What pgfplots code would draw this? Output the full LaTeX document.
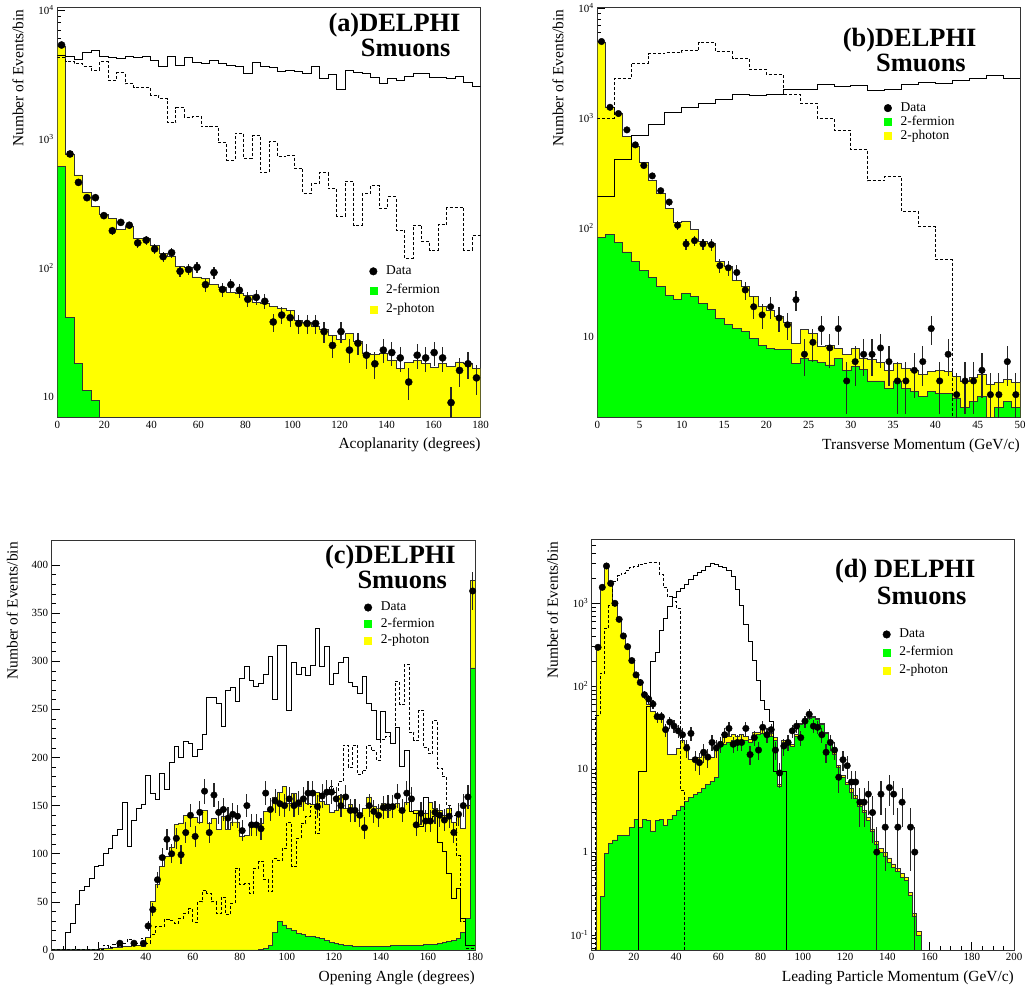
\documentclass[border=0pt]{standalone}
\usepackage{fontspec}
\setmainfont{Liberation Serif}
\usepackage{pgfplots}
\pgfplotsset{compat=1.18}
\definecolor{hgreen}{RGB}{0,255,0}
\definecolor{hyellow}{RGB}{255,255,0}
\pgfplotsset{
  delphi/.style={
    scale only axis,
    tick pos=left,
    tick align=inside,
    major tick length=8bp,
    minor tick length=4bp,
    axis line style={line width=0.9bp, black!80},
    every tick/.style={black, line width=0.7bp},
    tick label style={font=\fontsize{11}{13}\selectfont},
    /pgf/number format/assume math mode=true,
    label style={font=\fontsize{15.5}{18}\selectfont},
    xlabel style={at={(axis description cs:1,-0.0768)}, anchor=base east, inner sep=0pt},
    ylabel style={at={(axis description cs:-0.0804,0.995)}, anchor=base east, inner sep=0pt},
    log origin y=infty,
    legend cell align=left,
    legend style={draw=none, fill=none, font=\fontsize{13.5}{15}\selectfont, inner sep=0pt,
      nodes={inner sep=0pt, text height=9.5bp, text depth=3bp}, column sep=9bp},
  },
  hist/.style={const plot, line width=0.8bp, draw=black!80},
  sig/.style={const plot, line width=0.9bp, black},
  sigd/.style={const plot, line width=0.9bp, black, dash pattern=on 3bp off 2bp},
  data/.style={only marks, mark=*, mark size=3.3, black,
    error bars/y dir=both, error bars/y explicit, error bars/error mark=none,
    error bars/error bar style={line width=1.2bp, black!85}},
  legdata/.style={legend image code/.code={\draw[black] plot[only marks, mark=*, mark size=3.8bp] coordinates {(0bp,0bp)};}},
  leggreen/.style={legend image code/.code={\draw[hgreen] plot[only marks, mark=square*, mark size=3.5bp] coordinates {(0bp,0bp)};}},
  legyellow/.style={legend image code/.code={\draw[hyellow] plot[only marks, mark=square*, mark size=3.5bp] coordinates {(0bp,0bp)};}},
}
\begin{document}
\begin{tikzpicture}[x=1bp,y=1bp]
\useasboundingbox (0,0) rectangle (1025,989);
%%%%%%%%%%%%%%%%%%%% (a)
\begin{axis}[delphi, at={(57.3bp,571.5bp)}, anchor=south west, width=423.4bp, height=410.2bp,
  xmin=0, xmax=180, ymode=log, ymin=6.9, ymax=10500,
  xtick={0,20,...,180}, minor x tick num=3,
  ytick={10,100,1000,10000}, yticklabels={10,10\textsuperscript{2},10\textsuperscript{3},10\textsuperscript{4}},
  minor ytick={7,8,9,20,30,40,50,60,70,80,90,200,300,400,500,600,700,800,900,2000,3000,4000,5000,6000,7000,8000,9000},
  xlabel={Acoplanarity (degrees)}, ylabel={Number of Events/bin},
  legend style={at={(axis description cs:0.737,0.372)}, anchor=north west, row sep=6.5bp}]
\addplot[forget plot, hist, fill=hyellow] table[row sep=\\] {x y\\
0 5200\\ 3.6 764\\ 7.2 525\\ 10.8 383\\ 14.4 298\\ 18 261\\ 21.6 242\\ 25.2 200\\ 28.8 211\\ 32.4 169\\
36 169\\ 39.6 148\\ 43.2 129\\ 46.8 122\\ 50.4 102\\ 54 100\\ 57.6 85\\ 61.2 83\\ 64.8 74\\ 68.4 71\\
72 64\\ 75.6 63\\ 79.2 61\\ 82.8 54\\ 86.4 53\\ 90 50\\ 93.6 48\\ 97.2 47\\ 100.8 39\\ 104.4 38\\
108 35\\ 111.6 33\\ 115.2 30\\ 118.8 28\\ 122.4 31\\ 126 27\\ 129.6 21.7\\ 133.2 21.3\\ 136.8 21.7\\ 140.4 19.3\\
144 16.6\\ 147.6 18.4\\ 151.2 19\\ 154.8 18\\ 158.4 17\\ 162 18\\ 165.6 17.2\\ 169.2 18.6\\ 172.8 18\\ 176.4 16.6\\
180 16.6\\} \closedcycle;
\addplot[forget plot, hist, fill=hgreen] table[row sep=\\] {x y\\
0 610\\ 3.6 41\\ 7.2 18\\ 10.8 11.1\\ 14.4 9.3\\ 18 9.3\\} \closedcycle;
\addplot[forget plot, sig] table[row sep=\\] {x y\\
0 4470\\ 3.6 4390\\ 7.2 4140\\ 10.8 4670\\ 14.4 4840\\ 18 4350\\ 21.6 4300\\ 25.2 4210\\ 28.8 4350\\ 32.4 4300\\
36 4390\\ 39.6 4080\\ 43.2 3630\\ 46.8 4390\\ 50.4 3740\\ 54 4300\\ 57.6 3900\\ 61.2 3860\\ 64.8 4090\\ 68.4 3860\\
72 3740\\ 75.6 3630\\ 79.2 3230\\ 82.8 3900\\ 86.4 3630\\ 90 3590\\ 93.6 3330\\ 97.2 3390\\ 100.8 3330\\ 104.4 3230\\
108 3680\\ 111.6 2950\\ 115.2 3190\\ 118.8 2410\\ 122.4 3380\\ 126 3270\\ 129.6 3230\\ 133.2 3000\\ 136.8 2700\\ 140.4 2950\\
144 2860\\ 147.6 3070\\ 151.2 3230\\ 154.8 3220\\ 158.4 3000\\ 162 3000\\ 165.6 2930\\ 169.2 3070\\ 172.8 2740\\ 176.4 2570\\
180 2570\\};
\addplot[forget plot, sigd] table[row sep=\\] {x y\\
0 4300\\ 3.6 3970\\ 7.2 3860\\ 10.8 3680\\ 14.4 3420\\ 18 3970\\ 21.6 2860\\ 25.2 3250\\ 28.8 2670\\ 32.4 2520\\
36 2500\\ 39.6 2190\\ 43.2 2050\\ 46.8 1330\\ 50.4 1740\\ 54 1480\\ 57.6 1500\\ 61.2 1240\\ 64.8 1250\\ 68.4 935\\
72 686\\ 75.6 1110\\ 79.2 710\\ 82.8 1060\\ 86.4 545\\ 90 950\\ 93.6 730\\ 97.2 750\\ 100.8 590\\ 104.4 378\\
108 450\\ 111.6 545\\ 115.2 410\\ 118.8 252\\ 122.4 470\\ 126 215\\ 129.6 375\\ 133.2 435\\ 136.8 290\\ 140.4 355\\
144 196\\ 147.6 118\\ 151.2 215\\ 154.8 160\\ 158.4 137\\ 162 216\\ 165.6 294\\ 169.2 294\\ 172.8 137\\ 176.4 177\\
180 177\\};
\addplot[forget plot, data, mark size=3.6] table[row sep=\\, x index=0, y index=1, y error index=2] {x y e\\
1.8 5350 73\\ 5.4 764 27.6\\ 9.0 460 21.4\\ 12.6 350 18.7\\ 16.2 350 18.7\\ 19.8 254 15.9\\ 23.4 194 13.9\\ 27.0 225 15\\
30.6 214 14.6\\ 34.2 156 12.5\\ 37.8 164 12.8\\ 41.4 140 11.8\\ 45.0 122 11\\ 48.6 131 11.4\\ 52.2 94 9.7\\ 55.8 97 9.8\\
59.4 101 10\\ 63.0 74 8.6\\ 66.6 92 9.6\\ 70.2 68 8.2\\ 73.8 74 8.6\\ 77.4 67 8.2\\ 81.0 57 7.5\\ 84.6 59 7.7\\
88.2 55 7.4\\ 91.8 38 6.2\\ 95.4 43 6.6\\ 99.0 41 6.4\\ 102.6 37 6.1\\ 106.2 37 6.1\\ 109.8 37 6.1\\ 113.4 32 5.7\\
117.0 25 5\\ 120.6 32 5.7\\ 124.2 23 4.8\\ 127.8 26 5.1\\ 131.4 21 4.6\\ 135.0 18 4.2\\ 138.6 23 4.8\\ 142.2 22 4.7\\
145.8 20 4.5\\ 149.4 13 3.6\\ 153.0 21 4.6\\ 156.6 20 4.5\\ 160.2 22 4.7\\ 163.8 20 4.5\\ 167.4 9 3\\ 171.0 16 4\\
174.6 18 4.2\\ 178.2 14 3.7\\};
\addlegendimage{legdata}\addlegendentry{Data}
\addlegendimage{leggreen}\addlegendentry{2-fermion}
\addlegendimage{legyellow}\addlegendentry{2-photon}
\end{axis}
%%%%%%%%%%%%%%%%%%%% (b)
\begin{axis}[delphi, at={(597.3bp,571.3bp)}, anchor=south west, width=422.7bp, height=410.4bp,
  xmin=0, xmax=50, ymode=log, ymin=1.85, ymax=10200,
  xtick={0,5,...,50}, minor x tick num=4,
  ytick={10,100,1000,10000}, yticklabels={10,10\textsuperscript{2},10\textsuperscript{3},10\textsuperscript{4}},
  minor ytick={2,3,4,5,6,7,8,9,20,30,40,50,60,70,80,90,200,300,400,500,600,700,800,900,2000,3000,4000,5000,6000,7000,8000,9000},
  xlabel={Transverse Momentum (GeV/c)}, ylabel={Number of Events/bin},
  legend style={at={(axis description cs:0.678,0.770)}, anchor=north west, row sep=1.5bp}]
\addplot[forget plot, hist, fill=hyellow] table[row sep=\\] {x y\\
0 4900\\ 1 1250\\ 2 1100\\ 3 676\\ 4 548\\ 5 392\\ 6 268\\ 7 206\\ 8 150\\ 9 111\\
10 115\\ 11 97\\ 12 74.5\\ 13 72\\ 14 49\\ 15 44\\ 16 33\\ 17 29\\ 18 23.5\\ 19 19\\
20 17.7\\ 21 15.4\\ 22 13.6\\ 23 8.8\\ 24 11.9\\ 25 10.9\\ 26 8.2\\ 27 8.5\\ 28 7.9\\ 29 7.0\\
30 7.9\\ 31 6.4\\ 32 6.3\\ 33 5.9\\ 34 5.0\\ 35 5.8\\ 36 5.2\\ 37 5.0\\ 38 4.6\\ 39 4.9\\
40 5.0\\ 41 4.9\\ 42 4.4\\ 43 4.0\\ 44 4.3\\ 45 4.6\\ 46 3.7\\ 47 3.9\\ 48 4.1\\ 49 3.9\\ 50 3.9\\} \closedcycle;
\addplot[forget plot, hist, fill=hgreen] table[row sep=\\] {x y\\
0 81.7\\ 1 86\\ 2 73\\ 3 60\\ 4 49\\ 5 41\\ 6 35\\ 7 29\\ 8 24\\ 9 22\\
10 25.2\\ 11 23.5\\ 12 20.4\\ 13 18\\ 14 14.9\\ 15 13.2\\ 16 12\\ 17 11.3\\ 18 9.8\\ 19 8.5\\
20 7.9\\ 21 7.7\\ 22 7.7\\ 23 5.8\\ 24 6.4\\ 25 6.2\\ 26 5.9\\ 27 5.6\\ 28 6.4\\ 29 5.0\\
30 5.4\\ 31 5.1\\ 32 4.0\\ 33 4.0\\ 34 3.4\\ 35 4.0\\ 36 3.4\\ 37 3.2\\ 38 2.9\\ 39 3.2\\
40 3.1\\ 41 3.1\\ 42 2.8\\ 43 2.3\\ 44 2.6\\ 45 2.9\\ 46 1.5\\ 47 2.3\\ 48 2.6\\ 49 2.3\\ 50 2.3\\} \closedcycle;
\addplot[forget plot, sig] table[row sep=\\] {x y\\
0 192\\ 2 414\\ 4 686\\ 6 863\\ 8 1120\\ 10 1250\\ 12 1360\\ 14 1480\\ 16 1650\\ 18 1600\\
20 1650\\ 22 1800\\ 24 1830\\ 26 2000\\ 28 1930\\ 30 1960\\ 32 1770\\ 34 1830\\ 36 2000\\ 38 2100\\
40 2070\\ 42 2190\\ 44 2270\\ 46 2420\\ 48 2280\\ 50 2280\\};
\addplot[forget plot, sigd] table[row sep=\\] {x y\\
0 993\\ 2 2270\\ 4 3150\\ 6 3830\\ 8 3940\\ 10 4110\\ 12 4900\\ 14 4000\\ 16 3500\\ 18 2780\\
20 2470\\ 22 1650\\ 24 1360\\ 26 980\\ 28 767\\ 30 511\\ 32 267\\ 34 292\\ 36 140\\ 38 102\\
40 51\\ 42 0.01\\};
\addplot[forget plot, data] table[row sep=\\, x index=0, y index=1, y error index=2] {x y e\\
0.5 4970 70.5\\ 1.5 1250 35.4\\ 2.5 1096 33.1\\ 3.5 778 27.9\\ 4.5 568 23.8\\ 5.5 368 19.2\\ 6.5 296 17.2\\ 7.5 217 14.7\\
8.5 171 13.1\\ 9.5 105 10.2\\ 10.5 71 8.4\\ 11.5 76 8.7\\ 12.5 71 8.4\\ 13.5 70 8.4\\ 14.5 45 6.7\\ 15.5 43 6.6\\
16.5 39 6.2\\ 17.5 27 5.2\\ 18.5 19 4.4\\ 19.5 16 4\\ 20.5 19 4.4\\ 21.5 15 3.9\\ 22.5 13 3.6\\ 23.5 22 4.7\\
24.5 7 2.6\\ 25.5 9 3\\ 26.5 12 3.5\\ 27.5 8 2.8\\ 28.5 12 3.5\\ 29.5 4 2\\ 30.5 6 2.4\\ 31.5 7 2.6\\
32.5 7 2.6\\ 33.5 8 2.8\\ 34.5 6 2.4\\ 35.5 4 2\\ 36.5 4 2\\ 37.5 5 2.2\\ 38.5 6 2.4\\ 39.5 12 3.5\\
40.5 4 2\\ 41.5 7 2.6\\ 42.5 3 1.7\\ 43.5 4 2\\ 44.5 4 2\\ 45.5 5 2.2\\ 46.5 3 1.7\\ 47.5 3 1.7\\
48.5 6 2.4\\ 49.5 3 1.7\\};
\addlegendimage{legdata}\addlegendentry{Data}
\addlegendimage{leggreen}\addlegendentry{2-fermion}
\addlegendimage{legyellow}\addlegendentry{2-photon}
\end{axis}
%%%%%%%%%%%%%%%%%%%% (c)
\begin{axis}[delphi, at={(51.7bp,39bp)}, anchor=south west, width=423.3bp, height=410bp,
  xmin=0, xmax=180, ymin=0, ymax=426,
  xtick={0,20,...,180}, minor x tick num=3,
  ytick={0,50,...,400}, minor y tick num=4,
  xlabel={Opening Angle (degrees)}, ylabel={Number of Events/bin},
  legend style={at={(axis description cs:0.738,0.851)}, anchor=north west, row sep=4bp}]
\addplot[forget plot, hist, fill=hyellow] table[row sep=\\] {x y\\
0 0.5\\ 2 0.5\\ 4 0.5\\ 6 1\\ 8 1\\ 10 1\\ 12 1\\ 14 1\\ 16 1\\ 18 1\\
20 2\\ 22 2\\ 24 2\\ 26 3\\ 28 3\\ 30 4\\ 32 4\\ 34 5\\ 36 5\\ 38 4\\
40 13\\ 42 50\\ 44 68\\ 46 87\\ 48 97\\ 50 107\\ 52 130\\ 54 132\\ 56 140\\ 58 138\\
60 138\\ 62 133\\ 64 145\\ 66 132\\ 68 137\\ 70 125\\ 72 139\\ 74 125\\ 76 133\\ 78 133\\
80 118\\ 82 119\\ 84 128\\ 86 128\\ 88 132\\ 90 144\\ 92 147\\ 94 159\\ 96 164\\ 98 170\\
100 152\\ 102 163\\ 104 149\\ 106 156\\ 108 152\\ 110 151\\ 112 164\\ 114 154\\ 116 151\\ 118 143\\
120 145\\ 122 161\\ 124 147\\ 126 151\\ 128 144\\ 130 142\\ 132 147\\ 134 159\\ 136 149\\ 138 147\\
140 152\\ 142 145\\ 144 151\\ 146 152\\ 148 144\\ 150 153\\ 152 144\\ 154 145\\ 156 144\\ 158 142\\
160 153\\ 162 147\\ 164 145\\ 166 140\\ 168 147\\ 170 133\\ 172 142\\ 174 126\\ 176 150\\ 178 384\\ 180 384\\} \closedcycle;
\addplot[forget plot, hist, fill=hgreen] table[row sep=\\] {x y\\
0 0\\ 88 1\\ 90 2\\ 92 5\\ 94 18\\ 96 30\\ 98 26\\ 100 22\\ 102 20\\ 104 17\\ 106 16\\ 108 14\\
110 14\\ 112 13\\ 114 12\\ 116 10\\ 118 8\\ 120 7\\ 122 6\\ 124 5\\ 126 5\\ 128 4\\
130 4\\ 132 4\\ 134 4\\ 136 4\\ 138 4\\ 140 4\\ 142 4\\ 144 4.5\\ 146 4.5\\ 148 4.5\\
150 4.5\\ 152 4.5\\ 154 5\\ 156 5\\ 158 5.5\\ 160 6\\ 162 6\\ 164 7\\ 166 7.5\\ 168 9\\
170 10\\ 172 12\\ 174 18\\ 176 33\\ 178 293\\ 180 293\\} \closedcycle;
\addplot[forget plot, sig] table[row sep=\\] {x y\\
0 0\\ 6 18\\ 8 28\\ 10 47\\ 12 62\\ 14 66\\ 16 74\\ 18 87\\ 20 88\\ 22 100\\ 24 105\\ 26 119\\ 28 125\\
30 153\\ 32 108\\ 34 135\\ 36 147\\ 38 151\\ 40 181\\ 42 163\\ 44 156\\ 46 183\\ 48 167\\
50 195\\ 52 211\\ 54 200\\ 56 217\\ 58 215\\ 60 201\\ 62 208\\ 64 224\\ 66 262\\ 68 262\\
70 256\\ 72 232\\ 74 270\\ 76 273\\ 78 258\\ 80 282\\ 82 295\\ 84 280\\ 86 274\\ 88 277\\
90 286\\ 92 305\\ 94 260\\ 96 316\\ 98 316\\ 100 249\\ 102 299\\ 104 286\\ 106 294\\ 108 285\\
110 296\\ 112 334\\ 114 295\\ 116 315\\ 118 276\\ 120 287\\ 122 299\\ 124 304\\ 126 278\\ 128 274\\
130 267\\ 132 284\\ 134 256\\ 136 249\\ 138 219\\ 140 248\\ 142 226\\ 144 215\\ 146 231\\ 148 191\\
150 207\\ 152 144\\ 154 142\\ 156 128\\ 158 159\\ 160 133\\ 162 139\\ 164 112\\ 166 102\\ 168 80\\
170 54\\ 172 64\\ 174 33\\ 176 5\\ 178 5\\ 180 5\\};
\addplot[forget plot, sigd] table[row sep=\\] {x y\\
0 0.5\\ 20 1\\ 22 5\\ 24 3\\ 26 6\\ 28 4\\ 30 7\\ 32 11\\ 34 8\\ 36 7\\ 38 12\\
40 7\\ 42 16\\ 44 24\\ 46 24\\ 48 32\\ 50 31\\ 52 28\\ 54 33\\ 56 38\\ 58 43\\
60 29\\ 62 50\\ 64 62\\ 66 59\\ 68 50\\ 70 38\\ 72 55\\ 74 37\\ 76 48\\ 78 85\\
80 68\\ 82 69\\ 84 59\\ 86 85\\ 88 92\\ 90 73\\ 92 61\\ 94 95\\ 96 93\\ 98 106\\
100 133\\ 102 87\\ 104 116\\ 106 132\\ 108 139\\ 110 149\\ 112 121\\ 114 163\\ 116 166\\ 118 170\\
120 164\\ 122 175\\ 124 213\\ 126 190\\ 128 213\\ 130 182\\ 132 187\\ 134 213\\ 136 207\\ 138 197\\
140 219\\ 142 222\\ 144 215\\ 146 279\\ 148 255\\ 150 297\\ 152 226\\ 154 218\\ 156 249\\ 158 210\\
160 204\\ 162 239\\ 164 189\\ 166 180\\ 168 150\\ 170 140\\ 172 98\\ 174 30\\ 176 2\\ 178 2\\ 180 2\\};
\addplot[forget plot, data] table[row sep=\\, x index=0, y index=1, y error index=2] {x y e\\
29 7 2.6\\ 35 7 2.6\\ 39 7 2.6\\ 41 25 5\\ 43 42 6.5\\ 45 73 8.5\\ 47 96 9.8\\ 49 115 10.7\\
51 100 10\\ 53 116 10.8\\ 55 99 9.9\\ 57 122 11\\ 59 140 11.8\\ 61 118 10.9\\ 63 143 12\\ 65 165 12.8\\
67 122 11\\ 69 161 12.7\\ 71 143 12\\ 73 146 12.1\\ 75 137 11.7\\ 77 141 11.9\\ 79 139 11.8\\ 81 124 11.1\\
83 150 12.2\\ 85 130 11.4\\ 87 130 11.4\\ 89 126 11.2\\ 91 163 12.8\\ 93 146 12.1\\ 95 155 12.4\\ 97 152 12.3\\
99 150 12.2\\ 101 157 12.5\\ 103 150 12.2\\ 105 153 12.4\\ 107 157 12.5\\ 109 163 12.8\\ 111 163 12.8\\ 113 149 12.2\\
115 160 12.6\\ 117 164 12.8\\ 119 164 12.8\\ 121 157 12.5\\ 123 150 12.2\\ 125 159 12.6\\ 127 145 12\\ 129 145 12\\
131 140 11.8\\ 133 127 11.3\\ 135 150 12.2\\ 137 144 12\\ 139 140 11.8\\ 141 148 12.2\\ 143 149 12.2\\ 145 149 12.2\\
147 160 12.6\\ 149 145 12\\ 151 163 12.8\\ 153 157 12.5\\ 155 130 11.4\\ 157 142 11.9\\ 159 134 11.6\\ 161 134 11.6\\
163 143 12\\ 165 140 11.8\\ 167 135 11.6\\ 169 139 11.8\\ 171 122 11\\ 173 141 11.9\\ 175 150 12.2\\ 177 159 12.6\\
179 373 19.3\\};
\addlegendimage{legdata}\addlegendentry{Data}
\addlegendimage{leggreen}\addlegendentry{2-fermion}
\addlegendimage{legyellow}\addlegendentry{2-photon}
\end{axis}
%%%%%%%%%%%%%%%%%%%% (d)
\begin{axis}[delphi, at={(591.7bp,39bp)}, anchor=south west, width=422.3bp, height=410.7bp,
  xmin=0, xmax=200, ymode=log, ymin=0.066, ymax=5920,
  xtick={0,20,...,200}, minor x tick num=3,
  ytick={0.1,1,10,100,1000}, yticklabels={10\textsuperscript{-1},1,10,10\textsuperscript{2},10\textsuperscript{3}},
  minor ytick={0.07,0.08,0.09,0.2,0.3,0.4,0.5,0.6,0.7,0.8,0.9,2,3,4,5,6,7,8,9,20,30,40,50,60,70,80,90,200,300,400,500,600,700,800,900,2000,3000,4000,5000},
  xlabel={Leading Particle Momentum (GeV/c)}, ylabel={Number of Events/bin},
  legend style={at={(axis description cs:0.689,0.784)}, anchor=north west, row sep=5.5bp}]
\addplot[forget plot, hist, fill=hyellow] table[row sep=\\] {x y\\
0 0.001\\ 2 290\\ 4 1500\\ 6 2750\\ 8 1700\\ 10 1000\\ 12 620\\ 14 390\\ 16 290\\ 18 200\\
20 135\\ 22 105\\ 24 75\\ 26 60\\ 28 50\\ 30 42\\ 32 40\\ 34 30\\ 36 15\\ 38 15\\
40 18\\ 42 22\\ 44 20\\ 46 13.3\\ 48 13.3\\ 50 14\\ 52 14.5\\ 54 14\\ 56 14\\ 58 17\\
60 21\\ 62 24\\ 64 25\\ 66 26\\ 68 25\\ 70 26\\ 72 25\\ 74 23\\ 76 28\\ 78 28\\
80 30\\ 82 28\\ 84 27\\ 86 24\\ 88 6.5\\ 90 22\\ 92 21\\ 94 20\\ 96 26\\ 98 36\\
100 39\\ 102 42\\ 104 43\\ 106 41\\ 108 36\\ 110 28\\ 112 22\\ 114 16\\ 116 11\\ 118 8.5\\
120 7\\ 122 5.8\\ 124 4.8\\ 126 3.9\\ 128 3.2\\ 130 2.6\\ 132 1.9\\ 134 1.35\\ 136 1.1\\ 138 1.0\\
140 0.85\\ 142 0.72\\ 144 0.64\\ 146 0.55\\ 148 0.5\\ 150 0.33\\ 152 0.18\\ 154 0.11\\ 156 0.001\\} \closedcycle;
\addplot[forget plot, hist, fill=hgreen] table[row sep=\\] {x y\\
0 0.001\\ 4 0.29\\ 6 0.97\\ 8 1.28\\ 10 1.4\\ 12 1.6\\ 14 1.58\\ 16 1.58\\ 18 2.0\\
20 2.5\\ 22 2.0\\ 24 2.5\\ 26 2.4\\ 28 1.8\\ 30 2.4\\ 32 2.45\\ 34 2.1\\ 36 2.5\\ 38 2.8\\
40 3.2\\ 42 3.6\\ 44 4.1\\ 46 4.6\\ 48 4.9\\ 50 5.2\\ 52 5.8\\ 54 6.5\\ 56 7.1\\ 58 8.0\\
60 20\\ 62 20\\ 64 21\\ 66 22\\ 68 22\\ 70 21\\ 72 22\\ 74 21\\ 76 25\\ 78 26\\
80 27\\ 82 26\\ 84 25\\ 86 22\\ 88 6.2\\ 90 21\\ 92 20\\ 94 19\\ 96 25\\ 98 35\\
100 38\\ 102 41\\ 104 42\\ 106 40\\ 108 35\\ 110 27\\ 112 21\\ 114 15\\ 116 10.5\\ 118 8\\
120 6.5\\ 122 5.3\\ 124 4.4\\ 126 3.6\\ 128 3.0\\ 130 2.4\\ 132 1.8\\ 134 1.25\\ 136 1.0\\ 138 0.9\\
140 0.75\\ 142 0.65\\ 144 0.58\\ 146 0.5\\ 148 0.45\\ 150 0.3\\ 152 0.17\\ 154 0.1\\ 156 0.001\\} \closedcycle;
\addplot[forget plot, sig] table[row sep=\\] {x y\\
0 0.001\\ 22 9.4\\ 26 57\\ 28 198\\ 30 254\\ 32 477\\ 34 660\\ 36 912\\ 38 1180\\ 40 1380\\
42 1500\\ 44 1710\\ 46 1950\\ 48 2140\\ 50 2340\\ 52 2520\\ 54 2820\\ 56 3030\\ 58 2980\\ 60 2820\\
62 2710\\ 64 2480\\ 66 2100\\ 68 1470\\ 70 955\\ 72 563\\ 74 345\\ 76 204\\ 78 117\\ 80 67\\
82 53\\ 84 38\\ 86 9.3\\ 92 0.001\\};
\addplot[forget plot, sigd] table[row sep=\\] {x y\\
0 0.001\\ 2 45\\ 4 143\\ 6 500\\ 8 930\\ 10 1820\\ 12 2140\\ 14 2300\\ 16 2520\\ 18 2710\\
20 2820\\ 22 2980\\ 24 3030\\ 26 3090\\ 28 3090\\ 30 3090\\ 32 2250\\ 34 1560\\ 36 1200\\ 38 1050\\
40 870\\ 42 5.6\\ 44 0.001\\};
\addplot[forget plot, data, error bars/y explicit] table[row sep=\\, x index=0, y index=1, y error plus index=2, y error minus index=3] {x y ep em\\
3 295 17.2 17.2\\ 5 1560 39.5 39.5\\ 7 2820 53.1 53.1\\ 9 1740 41.7 41.7\\ 11 1000 31.6 31.6\\ 13 641 25.3 25.3\\
15 404 20.1 20.1\\ 17 300 17.3 17.3\\ 19 204 14.3 14.3\\ 21 137 11.7 11.7\\ 23 111 10.5 10.5\\ 25 79 8.9 8.9\\
27 70 8.4 8.4\\ 29 61 7.8 7.8\\ 31 43 6.6 6.6\\ 33 43 6.6 6.6\\ 35 30 5.5 5.5\\ 37 37 6.1 6.1\\
39 33 5.7 5.7\\ 41 29 5.4 5.4\\ 43 26 5.1 5.1\\ 45 18 4.2 4.2\\ 47 27 5.2 5.2\\ 49 13 3.6 3.6\\
51 12 3.5 3.5\\ 53 16 4 4\\ 55 14 3.7 3.7\\ 57 21 4.6 4.6\\ 59 18 4.2 4.2\\ 61 20 4.5 4.5\\
63 26 5.1 5.1\\ 65 31 5.6 5.6\\ 67 20 4.5 4.5\\ 69 21 4.6 4.6\\ 71 21 4.6 4.6\\ 73 31 5.6 5.6\\
75 15 3.9 3.9\\ 77 24 4.9 4.9\\ 79 17 4.1 4.1\\ 81 32 5.7 5.7\\ 83 26 5.1 5.1\\ 85 30 5.5 5.5\\
87 17 4.1 4.1\\ 89 9 3 3\\ 91 19 4.4 4.4\\ 93 21 4.6 4.6\\ 95 29 5.4 5.4\\ 97 33 5.7 5.7\\
99 24 4.9 4.9\\ 101 38 6.2 6.2\\ 103 46 6.8 6.8\\ 105 33 5.7 5.7\\ 107 32 5.7 5.7\\ 109 26 5.1 5.1\\
111 16 4 4\\ 113 21 4.6 4.6\\ 115 17 4.1 4.1\\ 117 8 2.8 2.8\\ 119 13 3.6 3.6\\ 121 11 3.3 3.3\\
123 7 2.6 2.6\\ 125 7 2.6 2.6\\ 127 4 2 2\\ 129 4 2 2\\ 131 5 2.2 2.2\\ 133 3 1.7 1.7\\
135 1 1 0.999\\ 137 5 2.2 2.2\\ 139 2 1.4 1.4\\ 141 6 2.4 2.4\\ 143 5 2.2 2.2\\ 145 2 1.4 1.4\\
147 4 2 2\\ 151 2 1.4 1.4\\ 153 1 1 0.999\\};
\addlegendimage{legdata}\addlegendentry{Data}
\addlegendimage{leggreen}\addlegendentry{2-fermion}
\addlegendimage{legyellow}\addlegendentry{2-photon}
\end{axis}
%%%%%%%%%%%%%%%%%%%% titles
\begin{scope}[every node/.style={anchor=base west, inner sep=0pt, font=\fontsize{26.5}{27}\selectfont\bfseries}]
\node at (328.3,957.5) {(a)DELPHI};
\node at (360.7,932) {Smuons};
\node at (842.7,942.5) {(b)DELPHI};
\node at (876,917) {Smuons};
\node at (325,425.3) {(c)DELPHI};
\node at (357.3,400) {Smuons};
\node at (835,411.5) {(d) DELPHI};
\node at (876.7,384) {Smuons};
\end{scope}
\end{tikzpicture}
\end{document}
